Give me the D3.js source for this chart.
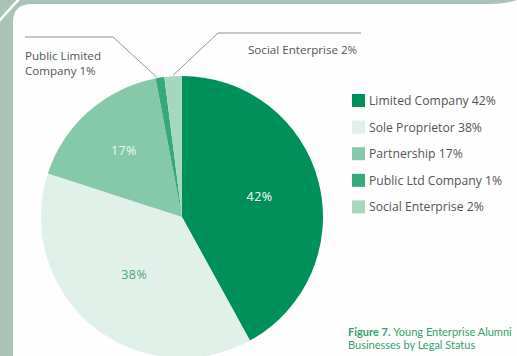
<!DOCTYPE html>
<html>
<head>
<meta charset="utf-8">
<script src="https://cdn.jsdelivr.net/npm/d3@7"></script>
<style>
  html, body { margin: 0; padding: 0; background: #ffffff; }
  svg { display: block; }
  text { font-family: "Open Sans", "Noto Sans", sans-serif; }
  .caption text { font-family: Lato, "Open Sans", sans-serif; }
</style>
</head>
<body>
<svg id="chart" width="517" height="356"></svg>
<script>
// Legal status of alumni businesses (% of businesses)
const categories = ["Limited Company", "Sole Proprietor", "Partnership", "Public Ltd Company", "Social Enterprise"];
const shares = [42, 38, 17, 1, 2];
const legendLabels = ["Limited Company 42%", "Sole Proprietor 38%", "Partnership 17%", "Public Ltd Company 1%", "Social Enterprise 2%"];
const sliceColors = ["#00905a", "#dff1e8", "#86c9aa", "#35a977", "#a6d8c0"];
const sliceLabelColors = ["#ffffff", "#4aa67e", "#eef8f3", null, null];
const calloutLines = [["Public Limited", "Company 1%"], ["Social Enterprise 2%"]];
const captionBold = "Figure 7.";
const captionLines = ["Young Enterprise Alumni", "Businesses by Legal Status"];

// distance of each in-slice percentage from the centre
const labelRadius = [80, 75, 88];

const svg = d3.select("#chart");
const W = 517, H = 356;

// page frame: grey-green border with the white panel
svg.append("rect").attr("width", W).attr("height", H).attr("fill", "#a9c4b6");
svg.append("path")
  .attr("d", `M13,${H} L13,22 Q13,4 32,4 L490,4 Q505,4 ${W},0 L${W},${H} Z`)
  .attr("fill", "#fdfefd");
svg.append("line").attr("x1", -2).attr("y1", 22).attr("x2", 20).attr("y2", -2)
  .attr("stroke", "#ffffff").attr("stroke-width", 2.5);

// pie
const cx = 182, cy = 217, R = 141;
const pie = d3.pie().sort(null).value(d => d).startAngle(0).endAngle(2 * Math.PI);
const arcs = pie(shares);
const arc = d3.arc().innerRadius(0).outerRadius(R);

const g = svg.append("g").attr("transform", `translate(${cx},${cy})`);
g.selectAll("path.slice").data(arcs).enter().append("path")
  .attr("class", "slice")
  .attr("d", arc)
  .attr("fill", (d, i) => sliceColors[i]);

g.selectAll("text.slice-label").data(arcs.filter((d, i) => sliceLabelColors[i])).enter()
  .append("text")
  .attr("class", "slice-label")
  .attr("transform", d => {
    const r = labelRadius[d.index];
    return `translate(${d3.arc().innerRadius(r).outerRadius(r).centroid(d)})`;
  })
  .attr("text-anchor", "middle")
  .attr("dy", "0.35em")
  .attr("font-size", 12.5)
  .attr("letter-spacing", 0.4)
  .attr("fill", d => sliceLabelColors[d.index])
  .text(d => d.data + "%");

// callouts for the two thin slices
function pointAt(angle, r) {
  return [cx + r * Math.sin(angle), cy - r * Math.cos(angle)];
}
const plc = arcs[3], se = arcs[4];
const pEnd = pointAt(plc.startAngle + 0.01, R + 1);
const sEnd = pointAt((se.startAngle + se.endAngle) / 2, R + 1);
const lineColor = "#8a9a94";
svg.append("polyline")
  .attr("points", [[25, 37], [113, 37], pEnd].map(p => p.join(",")).join(" "))
  .attr("fill", "none").attr("stroke", lineColor).attr("stroke-width", 1);
svg.append("polyline")
  .attr("points", [sEnd, [218, 33], [361, 33]].map(p => p.join(",")).join(" "))
  .attr("fill", "none").attr("stroke", lineColor).attr("stroke-width", 1);

const callout = svg.append("g").attr("font-size", 11.6).attr("fill", "#555555");
calloutLines[0].forEach((t, i) => {
  callout.append("text").attr("x", 25).attr("y", 60 + i * 14.5).text(t);
});
callout.append("text").attr("x", 248).attr("y", 54).text(calloutLines[1][0]);

// legend
const legend = svg.append("g").attr("transform", "translate(352,94)");
const rows = legend.selectAll("g").data(categories).enter().append("g")
  .attr("transform", (d, i) => `translate(0,${i * 26.6})`);
rows.append("rect").attr("width", 13).attr("height", 13)
  .attr("fill", (d, i) => sliceColors[i]);
rows.append("text").attr("x", 17).attr("y", 11)
  .attr("font-size", 12.2).attr("fill", "#555555")
  .text((d, i) => legendLabels[i]);

// caption
const cap = svg.append("g").attr("class", "caption").attr("font-size", 11).attr("fill", "#36a06e");
const t1 = cap.append("text").attr("x", 348).attr("y", 336);
t1.append("tspan").attr("font-weight", "bold").text(captionBold + " ");
t1.append("tspan").text(captionLines[0]);
cap.append("text").attr("x", 348).attr("y", 349).text(captionLines[1]);
</script>
</body>
</html>
